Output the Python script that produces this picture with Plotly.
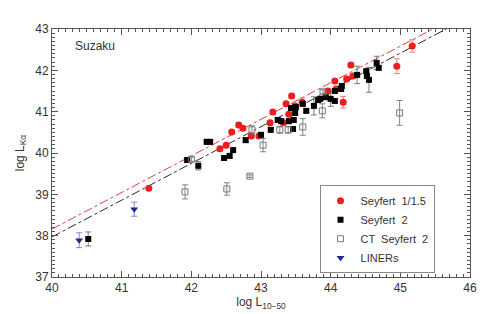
import plotly.graph_objects as go

# ---- data (log luminosities) ----
sy1_x = [41.39, 42.41, 42.50, 42.58, 42.68, 42.74, 42.86, 42.97, 43.13, 43.17, 43.32, 43.36,
         43.40, 43.44, 43.49, 43.59, 43.96, 44.06, 44.08, 44.18, 44.23, 44.29, 44.32, 44.95, 45.17]
sy1_y = [39.15, 40.10, 40.19, 40.51, 40.68, 40.60, 40.41, 40.41, 40.73, 40.99, 40.73, 41.19,
         40.94, 41.38, 41.14, 41.23, 41.50, 41.74, 41.55, 41.23, 41.79, 42.13, 41.86, 42.10, 42.59]
sy1_err = [0.03, 0.05, 0.05, 0.05, 0.05, 0.05, 0.05, 0.05, 0.05, 0.05, 0.05, 0.05,
           0.05, 0.05, 0.05, 0.10, 0.05, 0.05, 0.05, 0.14, 0.05, 0.05, 0.05, 0.18, 0.15]

sy2_x = [40.52, 41.94, 42.10, 42.22, 42.27, 42.47, 42.55, 42.60, 42.78, 43.00, 43.14, 43.24,
         43.29, 43.40, 43.46, 43.47, 43.49, 43.43, 43.50, 43.60, 43.65, 43.76, 43.82, 43.85,
         43.93, 44.00, 44.06, 44.06, 44.15, 44.16, 44.38, 44.51, 44.52, 44.55, 44.66, 44.69]
sy2_y = [37.92, 39.83, 39.69, 40.27, 40.27, 39.88, 39.93, 40.07, 40.31, 40.44, 40.56, 40.80,
         40.77, 40.77, 40.58, 40.80, 40.97, 41.09, 41.11, 41.19, 41.02, 41.14, 41.28, 41.31,
         41.35, 41.31, 41.26, 41.50, 41.55, 41.62, 41.89, 41.98, 41.86, 41.77, 42.18, 42.06]
sy2_err = [0.17, 0.05, 0.10, 0.05, 0.05, 0.05, 0.05, 0.05, 0.05, 0.05, 0.05, 0.05,
           0.05, 0.05, 0.05, 0.05, 0.05, 0.05, 0.05, 0.05, 0.05, 0.22, 0.05, 0.05,
           0.05, 0.18, 0.05, 0.05, 0.05, 0.05, 0.21, 0.05, 0.05, 0.30, 0.16, 0.05]

ct_x = [41.91, 42.51, 42.84, 42.00, 42.87, 43.03, 43.27, 43.39, 43.60, 43.88, 43.89, 44.99]
ct_y = [39.06, 39.13, 39.44, 39.85, 40.56, 40.19, 40.56, 40.56, 40.63, 41.02, 41.48, 40.97]
ct_err = [0.17, 0.15, 0.03, 0.05, 0.10, 0.16, 0.08, 0.08, 0.20, 0.17, 0.05, 0.30]

liner_x = [40.39, 41.18]
liner_y = [37.89, 38.64]
liner_err = [0.18, 0.17]

# best-fit lines: intercept at log L = 40 and slope
fit_x = [40.0, 46.0]
fit_sy1 = (38.16, 0.885)
fit_all = (37.97, 0.889)

FONT = "Liberation Sans, Arial, sans-serif"

fig = go.Figure()

fig.add_trace(go.Scatter(
    x=fit_x, y=[fit_sy1[0] + fit_sy1[1] * (v - 40) for v in fit_x], mode="lines",
    line=dict(color="rgba(230,40,40,0.9)", width=1, dash="dashdot"),
    showlegend=False, hoverinfo="skip"))
fig.add_trace(go.Scatter(
    x=fit_x, y=[fit_all[0] + fit_all[1] * (v - 40) for v in fit_x], mode="lines",
    line=dict(color="rgba(20,20,20,0.9)", width=1, dash="dashdot"),
    showlegend=False, hoverinfo="skip"))

fig.add_trace(go.Scatter(
    x=sy1_x, y=sy1_y, mode="markers", name="Seyfert  1/1.5",
    marker=dict(symbol="circle", size=7, color="#ee1c1c"),
    error_y=dict(type="data", array=sy1_err, color="rgba(240,90,90,0.8)", thickness=1, width=3)))
fig.add_trace(go.Scatter(
    x=sy2_x, y=sy2_y, mode="markers", name="Seyfert  2",
    marker=dict(symbol="square", size=6, color="#000000"),
    error_y=dict(type="data", array=sy2_err, color="rgba(90,90,90,0.8)", thickness=1, width=3)))
fig.add_trace(go.Scatter(
    x=ct_x, y=ct_y, mode="markers", name="CT  Seyfert  2",
    marker=dict(symbol="square-open", size=6, color="#777777", line=dict(width=1)),
    error_y=dict(type="data", array=ct_err, color="rgba(110,110,110,0.85)", thickness=1, width=3)))
fig.add_trace(go.Scatter(
    x=liner_x, y=liner_y, mode="markers", name="LINERs",
    marker=dict(symbol="triangle-down", size=7, color="#1f2a8c"),
    error_y=dict(type="data", array=liner_err, color="rgba(100,110,200,0.8)", thickness=1, width=3)))

axis_common = dict(
    showline=True, linecolor="#555555", linewidth=1, mirror="ticks",
    ticks="inside", ticklen=6, tickcolor="#555555", tickwidth=1,
    showgrid=False, zeroline=False, dtick=1,
    tickfont=dict(family=FONT, size=12, color="#333333"),
    minor=dict(ticks="inside", ticklen=3, dtick=0.1, tickcolor="#555555", showgrid=False),
)

fig.update_layout(
    width=491, height=314,
    margin=dict(l=44, r=29, t=21, b=45),
    paper_bgcolor="white", plot_bgcolor="white",
    font=dict(family=FONT, size=12, color="#333333"),
    xaxis=dict(range=[40, 46], title=dict(text="log L<sub>10−50</sub>", standoff=2,
                                          font=dict(family=FONT, size=12, color="#333333")),
               **axis_common),
    yaxis=dict(range=[37, 43], title=dict(text="log L<sub>Kα</sub>", standoff=8,
                                          font=dict(family=FONT, size=12, color="#333333")),
               **axis_common),
    legend=dict(x=0.64, y=0.37, xanchor="left", yanchor="top",
                bordercolor="#888888", borderwidth=1, bgcolor="white",
                font=dict(family=FONT, size=11, color="#333333"),
                itemwidth=30, tracegroupgap=0),
    annotations=[dict(text="Suzaku", xref="paper", yref="paper", x=0.05, y=0.93,
                      xanchor="left", yanchor="middle", showarrow=False,
                      font=dict(family=FONT, size=12, color="#333333"))],
    showlegend=True,
)

fig.write_html("out.html")
